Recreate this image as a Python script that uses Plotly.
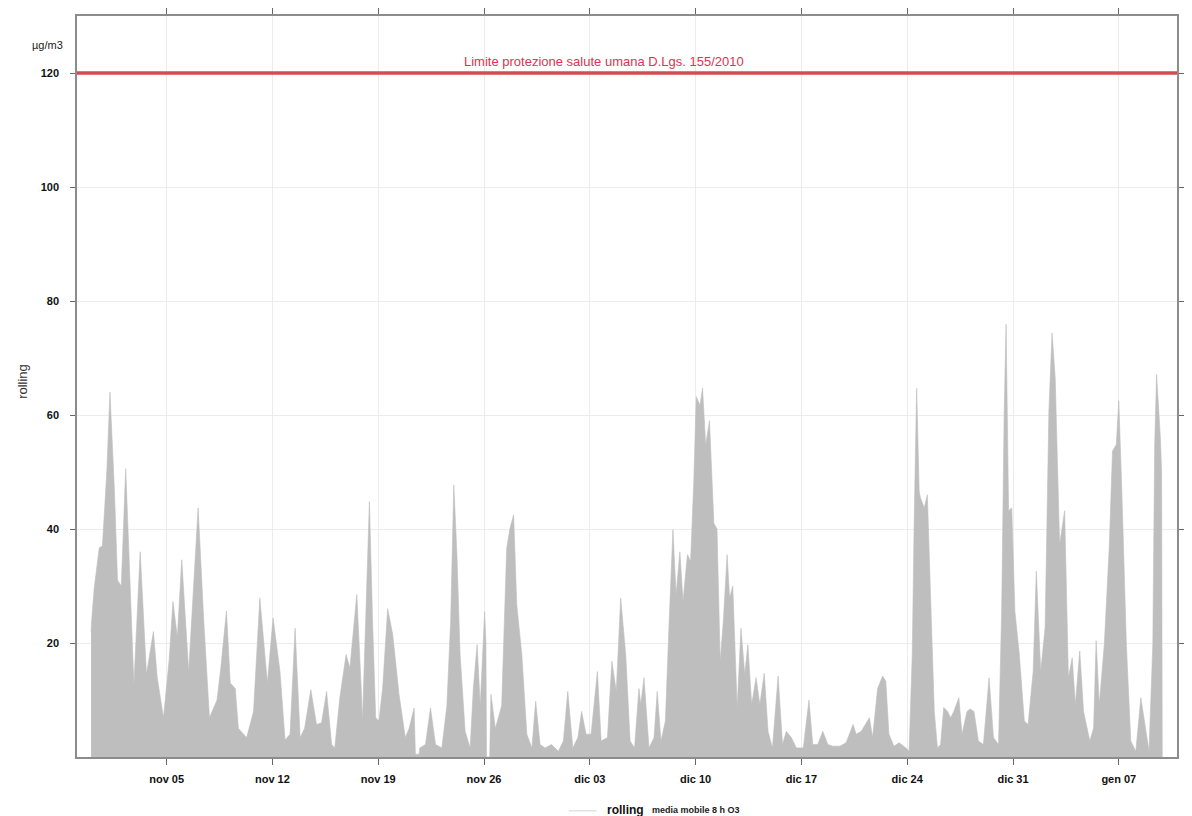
import pandas as pd
import plotly.graph_objects as go

# Rolling 8-hour mean of O3 (µg/m3); readings keyed by hours elapsed since the series start
series_start = pd.Timestamp("2023-10-31 00:00")

hours_oct31_nov17 = [0, 1, 5, 13, 18, 25, 30, 37, 42, 48, 55, 60, 66, 68, 78, 84, 88, 99, 105, 115,
                     124, 130, 137, 144, 155, 170, 179, 188, 200, 206, 215, 221, 229, 234, 247, 258,
                     268, 280, 289, 300, 308, 316, 324, 332, 339, 349, 358, 366, 374, 382, 387, 395,
                     405, 411, 422, 429]
o3_oct31_nov17 = [22, 24, 29.6, 36.7, 37, 50, 64, 47, 31, 30, 50.6, 35, 18, 12.7, 36, 22, 14.5, 22, 14, 6.9,
                  17, 27.3, 21, 34.6, 15, 43.7, 23.8, 6.9, 10, 15.6, 25.6, 13, 12, 5, 3.4, 8,
                  27.9, 13, 24.4, 15, 3, 4, 22.6, 3.4, 5, 11.8, 5.7, 6, 11.5, 2.2, 1.6, 10.4,
                  18, 15.6, 28.5, 12]

hours_nov17_dec06 = [431, 436, 442, 447, 452, 457, 463, 471, 479, 489, 499, 505, 513, 515, 521, 522, 531,
                     539, 547, 557, 565, 571, 576, 581, 586, 594, 602, 607, 613, 618, 625, 627, 628,
                     633, 635, 642, 652, 660, 665, 671, 676, 684, 692, 700, 706, 713, 721, 731, 742,
                     750, 757, 765, 773, 779, 786, 794, 804, 810, 820, 827, 834, 841, 849, 856, 863, 870]
o3_nov17_dec06 = [6.3, 23.8, 44.8, 23.8, 6.9, 6.3, 12, 26, 21.5, 11, 3.4, 5, 8.6, 0.5, 0.5, 1.6, 2.2,
                  8.6, 2.2, 1.6, 9, 23.8, 47.7, 35.5, 18, 4.5, 1.6, 12, 19.7, 9, 25.5, 20, 0,
                  0, 11, 5, 9, 36.6, 40, 42.5, 26.7, 18, 4, 1.6, 9.8, 2.2, 1.6, 2.2, 1,
                  2.8, 11.5, 1.6, 3.4, 8, 4, 4, 15, 2.8, 3.4, 16.8, 11.5, 27.9, 18, 2.8, 1.6, 12]

hours_dec06_dec24 = [873, 878, 886, 894, 899, 905, 912, 918, 924, 929, 935, 940, 947, 952, 957, 961, 967,
                     971, 976, 982, 989, 994, 999, 1004, 1010, 1014, 1019, 1026, 1032, 1038, 1043, 1049,
                     1056, 1062, 1069, 1075, 1082, 1091, 1098, 1104, 1112, 1120, 1131, 1140, 1146, 1154,
                     1162, 1170, 1178, 1189, 1199, 1210, 1215, 1223, 1236, 1241, 1249, 1257, 1262, 1267,
                     1275, 1283, 1294, 1299, 1304, 1307, 1311]
o3_dec06_dec24 = [9.2, 13.9, 1.6, 3.4, 11.5, 2.8, 6.3, 23.8, 39.9, 28.5, 36, 27.3, 35.5, 34.3, 48, 63.2, 61.7,
                  64.7, 54.7, 59, 41, 40, 16.8, 23.8, 35.5, 27.9, 30, 8.6, 22.6, 14.5, 19.7, 9.2,
                  13.9, 9.2, 14.7, 4.5, 1.6, 14.2, 2.2, 4.5, 3.4, 1.6, 1.6, 10, 2.2, 2.2,
                  4.5, 2.2, 1.9, 1.9, 2.5, 5.7, 4, 4.5, 6.9, 3.4, 12, 14.2, 13.3, 4,
                  1.9, 2.5, 1.6, 1, 18, 41, 64.7]

hours_dec24_jan09 = [1315, 1317, 1323, 1328, 1333, 1339, 1344, 1349, 1354, 1360, 1365, 1370, 1378, 1383,
                     1391, 1396, 1402, 1409, 1417, 1426, 1433, 1441, 1446, 1450, 1453, 1457, 1462, 1467,
                     1474, 1482, 1488, 1496, 1501, 1508, 1515, 1521, 1526, 1531, 1538, 1546, 1552, 1558,
                     1563, 1570, 1576, 1586, 1592, 1596, 1601, 1609, 1617, 1622, 1628, 1632, 1637, 1644,
                     1651, 1659, 1667, 1674, 1680, 1686, 1689, 1692, 1698, 1700, 1701]
o3_dec24_jan09 = [46.7, 45.5, 43.7, 46, 28.5, 8, 1.6, 2.2, 8.7, 8, 6.9, 8, 10.4, 4,
                  8, 8.4, 8, 2.8, 2.2, 13.9, 3.4, 2.2, 25.6, 60.7, 75.9, 43.2, 43.7, 25.6,
                  18, 6.3, 5.7, 15, 32.6, 15, 22.7, 60.7, 74.4, 66.5, 37.3, 43.2, 13.9, 17.4,
                  9.2, 18.6, 8, 2.8, 5.1, 20.4, 9.2, 19.8, 37.3, 53.7, 54.8, 62.5, 46, 19.8,
                  2.8, 1, 10.4, 5.1, 1, 19.8, 54.8, 67.1, 56, 50, 0]

tick_dates = ["2023-11-05", "2023-11-12", "2023-11-19", "2023-11-26", "2023-12-03",
              "2023-12-10", "2023-12-17", "2023-12-24", "2023-12-31", "2024-01-07"]
tick_labels = ["nov 05", "nov 12", "nov 19", "nov 26", "dic 03",
               "dic 10", "dic 17", "dic 24", "dic 31", "gen 07"]
y_ticks = [20, 40, 60, 80, 100, 120]
limit_value = 120
limit_label = "Limite protezione salute umana D.Lgs. 155/2010"

hours = hours_oct31_nov17 + hours_nov17_dec06 + hours_dec06_dec24 + hours_dec24_jan09
o3 = o3_oct31_nov17 + o3_nov17_dec06 + o3_dec06_dec24 + o3_dec24_jan09
times = [series_start + pd.Timedelta(hours=h) for h in hours]

W, H = 1192, 816
L, R, T, B = 77, 8, 13, 59
pw, ph = W - L - R, H - T - B


def px(xp):
    return (xp - L) / pw


def py(yp):
    return (H - B - yp) / ph


narrow_bold = dict(family="Liberation Sans Narrow, Arial Narrow, Liberation Sans, Arial",
                   size=11, color="#111111", weight="bold")

fig = go.Figure()
fig.add_trace(go.Scatter(
    x=times, y=o3, mode="lines", fill="tozeroy",
    fillcolor="#bebebe", line=dict(color="#bebebe", width=0.6),
    showlegend=False, hoverinfo="skip",
))

# Health-protection limit
fig.add_shape(type="line", xref="paper", x0=0, x1=1, yref="y", y0=limit_value, y1=limit_value,
              line=dict(color="#d64b4f", width=3.5), layer="above")
fig.add_annotation(text=limit_label, xref="paper", x=px(607), yref="y", y=limit_value,
                   xanchor="center", yshift=12, showarrow=False,
                   font=dict(family="Liberation Sans, Arial", size=13, color="#e0334f"))

# Unit and axis title
fig.add_annotation(text="µg/m3", xref="paper", yref="paper", x=px(47), y=py(42),
                   xanchor="center", yanchor="middle", showarrow=False,
                   font=dict(family="Liberation Sans, Arial", size=11, color="#222"))
fig.add_annotation(text="rolling", xref="paper", yref="paper", x=px(22), y=py(380),
                   xanchor="center", yanchor="middle", textangle=-90, showarrow=False,
                   font=dict(family="Liberation Sans, Arial", size=13, color="#333"))

# Legend row under the plot
fig.add_shape(type="line", xref="paper", yref="paper", x0=px(572), x1=px(600), y0=py(811), y1=py(811),
              line=dict(color="#e2e2e2", width=1.5))
fig.add_annotation(text="rolling", xref="paper", yref="paper", x=px(608), y=py(810),
                   xanchor="left", yanchor="middle", showarrow=False,
                   font=dict(family="Liberation Sans Narrow, Arial Narrow, Liberation Sans", size=12,
                             color="#111", weight="bold"))
fig.add_annotation(text="media mobile 8 h O3", xref="paper", yref="paper", x=px(654), y=py(810),
                   xanchor="left", yanchor="middle", showarrow=False,
                   font=dict(family="Liberation Sans, Arial", size=9, color="#222", weight="bold"))

axis_common = dict(showgrid=True, gridcolor="#ececec", gridwidth=1, showline=True,
                   linecolor="#8c8c8c", linewidth=1.5, mirror="ticks", ticks="outside",
                   tickcolor="#666", tickwidth=1, zeroline=False, tickfont=narrow_bold)

fig.update_xaxes(range=[pd.Timestamp("2023-10-30 01:40"), pd.Timestamp("2024-01-10 20:25")],
                 tickvals=tick_dates, ticktext=tick_labels, ticklen=6, ticklabelstandoff=5,
                 **axis_common)
fig.update_yaxes(range=[0, 130], tickvals=y_ticks, ticktext=[str(v) for v in y_ticks],
                 ticklen=5, ticklabelstandoff=9, **axis_common)

fig.update_layout(width=W, height=H, margin=dict(l=L, r=R, t=T, b=B),
                  paper_bgcolor="white", plot_bgcolor="white", showlegend=False)

fig.write_html("out.html")
